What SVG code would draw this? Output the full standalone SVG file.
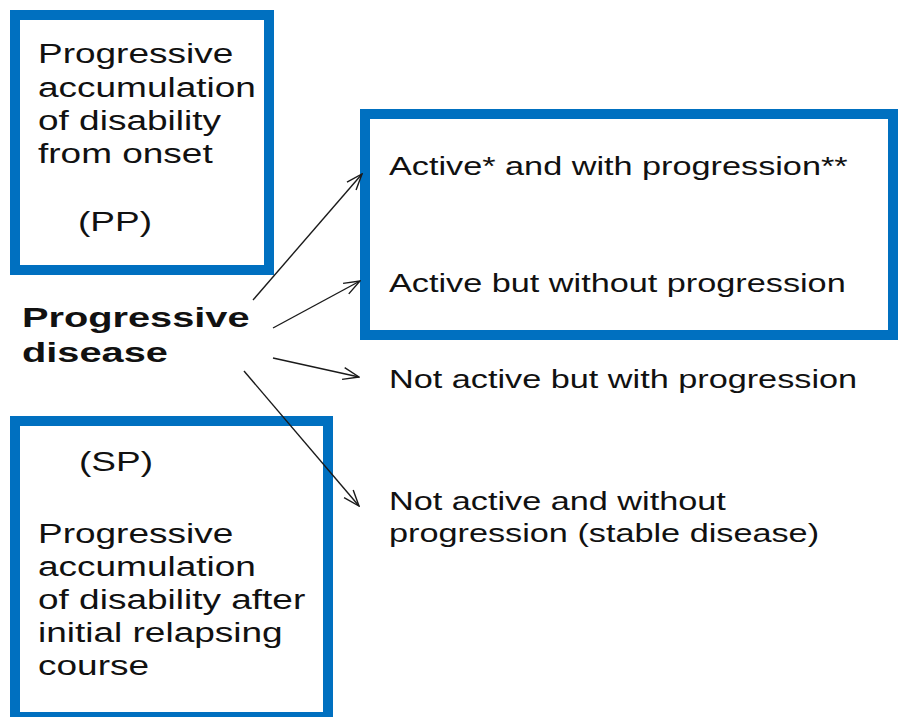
<svg xmlns="http://www.w3.org/2000/svg" width="898" height="717" viewBox="0 0 898 717">
  <style>
    .box { fill: #ffffff; stroke: #0070C0; stroke-width: 10; }
    .t { font-family: "Liberation Sans", Arial, sans-serif; font-size: 27px; fill: #111111; }
    .r { font-family: "Liberation Sans", Arial, sans-serif; font-size: 25px; fill: #111111; }
    .b { font-family: "Liberation Sans", Arial, sans-serif; font-size: 28px; font-weight: bold; fill: #111111; }
    .conn { fill: none; stroke: #1a1a1a; stroke-width: 1.4; }
  </style>
  <defs>
    <marker id="openHead" viewBox="0 0 18 14" refX="17" refY="7" markerWidth="18" markerHeight="14" markerUnits="userSpaceOnUse" orient="auto">
      <path d="M1,1 L17,7 L1,13" fill="none" stroke="#1a1a1a" stroke-width="1.4"/>
    </marker>
  </defs>
  <rect width="898" height="717" fill="#ffffff"/>

  <!-- Primary progressive box -->
  <g id="pp">
    <rect class="box" x="15" y="15" width="254" height="255"/>
    <text class="t" transform="translate(38 63) scale(1.37 1)">Progressive</text>
    <text class="t" transform="translate(38 97) scale(1.37 1)">accumulation</text>
    <text class="t" transform="translate(38 130) scale(1.37 1)">of disability</text>
    <text class="t" transform="translate(38 163) scale(1.37 1)">from onset</text>
    <text class="t" transform="translate(78 231) scale(1.37 1)">(PP)</text>
  </g>

  <!-- Secondary progressive box -->
  <g id="sp">
    <rect class="box" x="15" y="421" width="313" height="296"/>
    <text class="t" transform="translate(79 471) scale(1.37 1)">(SP)</text>
    <text class="t" transform="translate(38 543) scale(1.37 1)">Progressive</text>
    <text class="t" transform="translate(38 576) scale(1.37 1)">accumulation</text>
    <text class="t" transform="translate(38 609) scale(1.37 1)">of disability after</text>
    <text class="t" transform="translate(38 642) scale(1.37 1)">initial relapsing</text>
    <text class="t" transform="translate(38 675) scale(1.37 1)">course</text>
  </g>

  <!-- Central label -->
  <g id="progressive-disease">
    <text class="b" transform="translate(22 327) scale(1.42 1)">Progressive</text>
    <text class="b" transform="translate(22 362) scale(1.42 1)">disease</text>
  </g>

  <!-- Active group box -->
  <g id="active">
    <rect class="box" x="365" y="114" width="528" height="221"/>
    <text class="r" transform="translate(389 175) scale(1.37 1)">Active* and with progression**</text>
    <text class="r" transform="translate(389 292) scale(1.37 1)">Active but without progression</text>
  </g>

  <g id="not-active-progression">
    <text class="r" transform="translate(389 388) scale(1.37 1)">Not active but with progression</text>
  </g>

  <g id="not-active-stable">
    <text class="r" transform="translate(389 510) scale(1.37 1)">Not active and without</text>
    <text class="r" transform="translate(389 542) scale(1.37 1)">progression (stable disease)</text>
  </g>

  <!-- Connectors -->
  <g id="connectors">
    <line class="conn" x1="253" y1="300" x2="362" y2="174" marker-end="url(#openHead)"/>
    <line class="conn" x1="273" y1="328" x2="360" y2="281" marker-end="url(#openHead)"/>
    <line class="conn" x1="273" y1="358" x2="359" y2="377" marker-end="url(#openHead)"/>
    <line class="conn" x1="244" y1="371" x2="359" y2="506" marker-end="url(#openHead)"/>
  </g>
</svg>
